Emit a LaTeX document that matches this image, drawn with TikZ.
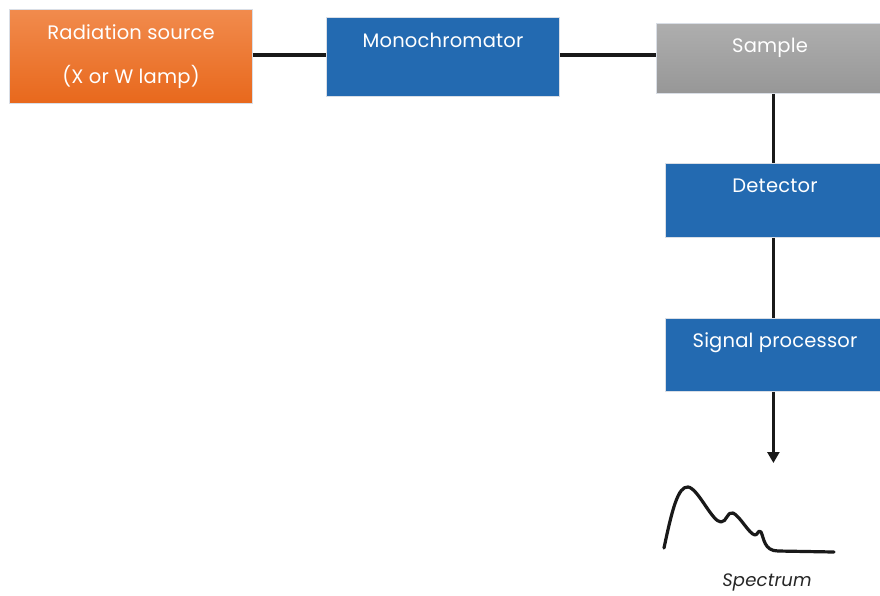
\documentclass[tikz,border=0pt]{standalone}
\usepackage{fontspec}
\setmainfont{Poppins}
\usetikzlibrary{arrows.meta}
\definecolor{boxblue}{HTML}{236AB1}
\definecolor{orangetop}{HTML}{F18B4D}
\definecolor{orangebot}{HTML}{E8681C}
\definecolor{greytop}{HTML}{AEAEAE}
\definecolor{greybot}{HTML}{979797}
\definecolor{edge}{HTML}{D9DEE6}
\begin{document}
\begin{tikzpicture}[x=1pt,y=-1pt,
  box/.style={draw=edge, line width=0.8pt, anchor=north west, inner sep=0pt},
  lbl/.style={text=white, font=\fontsize{19.5}{22}\selectfont\addfontfeatures{LetterSpace=1}, anchor=base},
  link/.style={line width=3.4pt, black!90},
]
\useasboundingbox (0,0) rectangle (880,595);
% boxes
\node[box, top color=orangetop, bottom color=orangebot, minimum width=243pt, minimum height=94pt] (src) at (9,9) {};
\node[box, fill=boxblue, minimum width=233pt, minimum height=79pt] (mono) at (326,17) {};
\node[box, top color=greytop, bottom color=greybot, minimum width=226pt, minimum height=70pt] (sample) at (656,23) {};
\node[box, fill=boxblue, minimum width=216pt, minimum height=74pt] (det) at (665,163) {};
\node[box, fill=boxblue, minimum width=216pt, minimum height=73pt] (proc) at (665,318) {};
% labels
\node[lbl] (srcA) at (131,39) {Radiation source};
\node[lbl] (srcB) at (131,83) {(X or W lamp)};
\node[lbl] (monoL) at (443,47) {Monochromator};
\node[lbl] (sampleL) at (770,52) {Sample};
\node[lbl] (detL) at (775,192) {Detector};
\node[lbl] (procL) at (775,347) {Signal processor};
\node[font=\fontsize{18}{20}\selectfont\itshape\addfontfeatures{LetterSpace=1}, text=black!85, anchor=base] (specL) at (767,586) {Spectrum};
% connectors
\coordinate (arrowtip) at (proc.south |- 0,463);
\draw[link] (src.east |- 0,55) -- (mono.west |- 0,55);
\draw[link] (mono.east |- 0,55) -- (sample.west |- 0,55);
\draw[link] (sample.south -| det.north) -- (det.north);
\draw[link] (det.south) -- (proc.north);
\draw[link, line width=2.4pt, -{Triangle[length=11pt,width=12pt]}] (proc.south) -- (arrowtip);
% spectrum trace
\draw[line width=3.2pt, black!90, line cap=round, line join=round]
  (664,548) .. controls (672,510) and (678,486) .. (688,487)
  .. controls (698,488) and (712,522) .. (721,522)
  .. controls (727,522) and (727,511) .. (733,513)
  .. controls (740,516) and (749,534) .. (755,535)
  .. controls (758,535) and (758,529) .. (761,532)
  .. controls (764,538) and (764,551) .. (778,551)
  -- (834,552);
\end{tikzpicture}
\end{document}
